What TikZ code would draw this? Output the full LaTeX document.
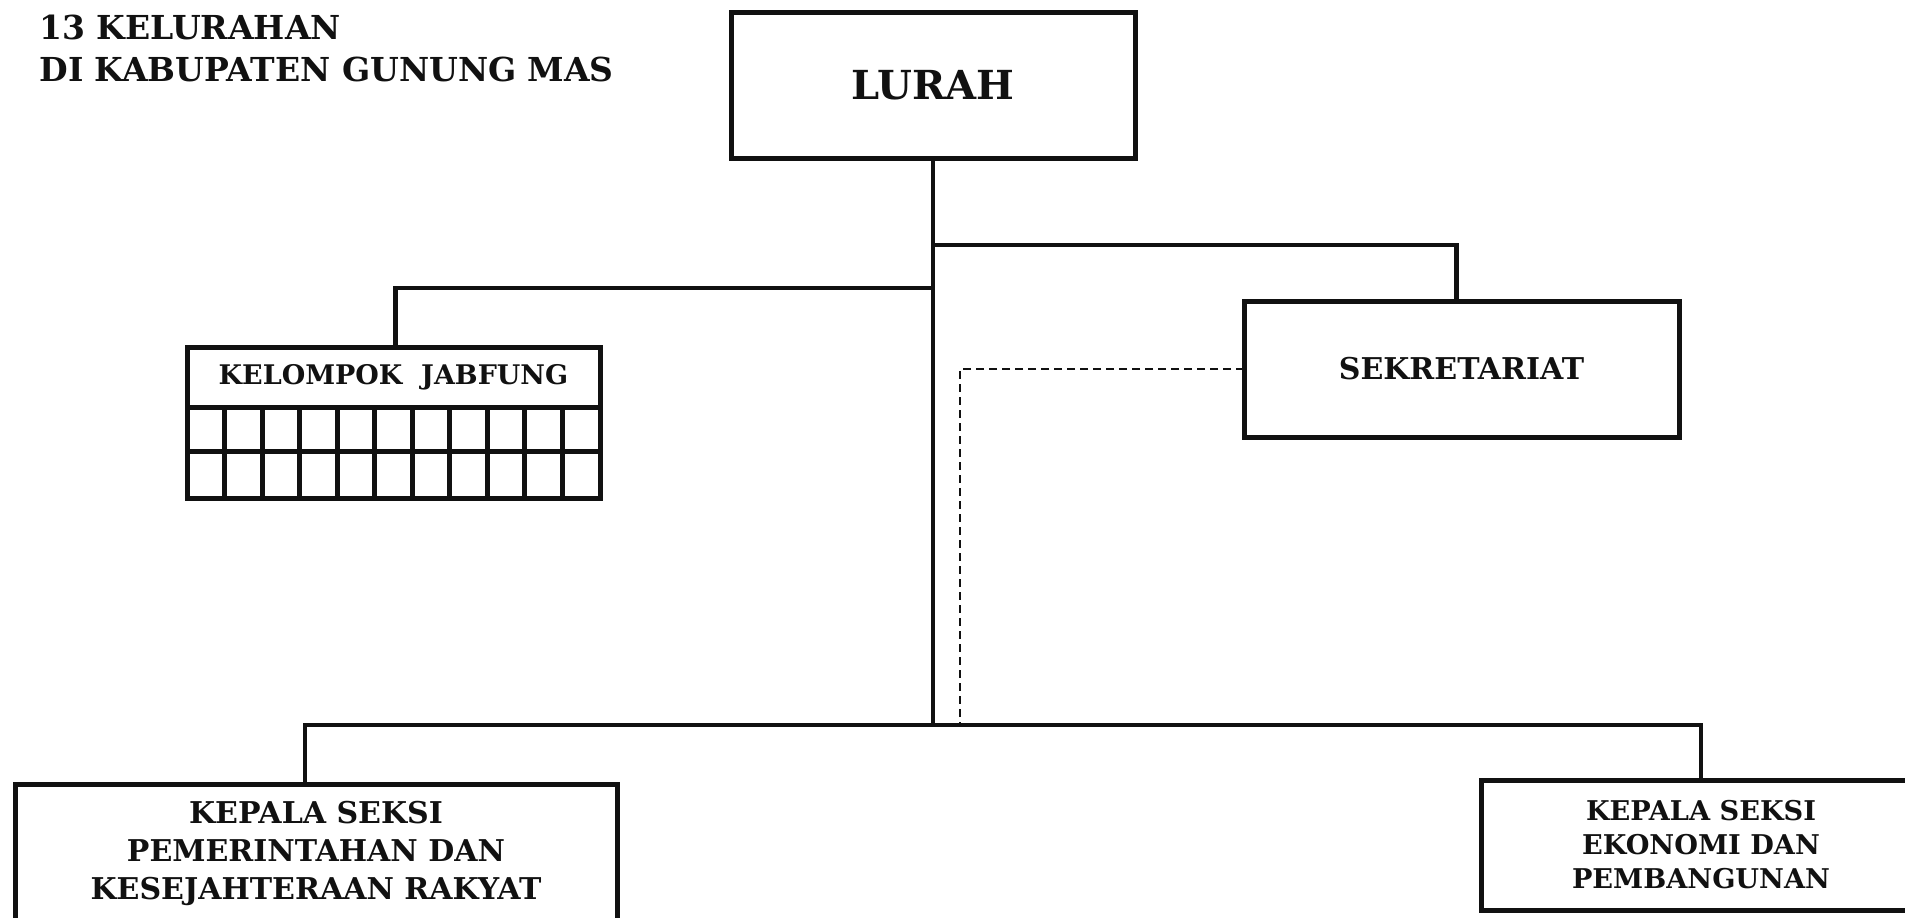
\documentclass[tikz,border=0pt]{standalone}
\usepackage{fontspec}
\setmainfont{DejaVu Serif}
\definecolor{inkdark}{HTML}{111111}

\begin{document}
\begin{tikzpicture}[x=0.5pt, y=-0.5pt, font=\bfseries, inkdark,
    box/.style={draw, line width=2.5pt, align=center, inner sep=0pt, outer sep=0pt},
    link/.style={line width=2.2pt},
    dashlink/.style={line width=1.4pt, dash pattern=on 4pt off 2.5pt}]

    \useasboundingbox (0,0) rectangle (1905,917);

    % Title
    \node[anchor=north west, align=left, inner sep=0pt,
          font=\bfseries\fontsize{16.5}{21}\selectfont] (title) at (39,15)
          {13 KELURAHAN\\DI KABUPATEN GUNUNG MAS};

    % Boxes
    \node[box, minimum width=202pt, minimum height=73pt,
          font=\bfseries\fontsize{20}{24}\selectfont] (lurah) at (933,85) {LURAH};
    \node[box, minimum width=217.5pt, minimum height=68pt,
          font=\bfseries\fontsize{15}{18}\selectfont] (sekr) at (1461.5,369) {SEKRETARIAT};
    \node[box, minimum width=206.5pt, minimum height=30pt,
          font=\bfseries\fontsize{13.5}{16}\selectfont] (kjab) at (393.5,377) {KELOMPOK\ \ JABFUNG};
    \node[box, minimum width=301pt, minimum height=69pt,
          font=\bfseries\fontsize{15}{19}\selectfont] (kspem) at (316,853)
          {KEPALA SEKSI\\PEMERINTAHAN DAN\\KESEJAHTERAAN RAKYAT};
    \node[box, minimum width=220pt, minimum height=65pt,
          font=\bfseries\fontsize{13.6}{17}\selectfont] (ksek) at (1701,845)
          {KEPALA SEKSI\\EKONOMI DAN\\PEMBANGUNAN};

    % Jabfung grid
    \begin{scope}[shift={(kjab.south west)}, line width=2.5pt]
        \draw (0,0) rectangle (413,91);
        \draw (0,44) -- (413,44);
        \foreach \c in {1,...,10}
            \draw (\c*37.545,0) -- (\c*37.545,91);
    \end{scope}

    % Lines of command
    \coordinate (bus) at (933,725);
    \coordinate (dashfoot) at (960,725);
    \draw[link] (lurah.south) -- (bus);
    \draw[link] (lurah.south) ++(0,87) -| ([xshift=-2.5pt]sekr.north);
    \draw[link] (lurah.south) ++(0,130) -| ([xshift=1pt]kjab.north);
    \draw[link] ([xshift=-5.5pt]kspem.north) |- (bus) -| (ksek.north);

    % Coordination line
    \draw[dashlink] (sekr.west) -| (dashfoot);

\end{tikzpicture}
\end{document}
